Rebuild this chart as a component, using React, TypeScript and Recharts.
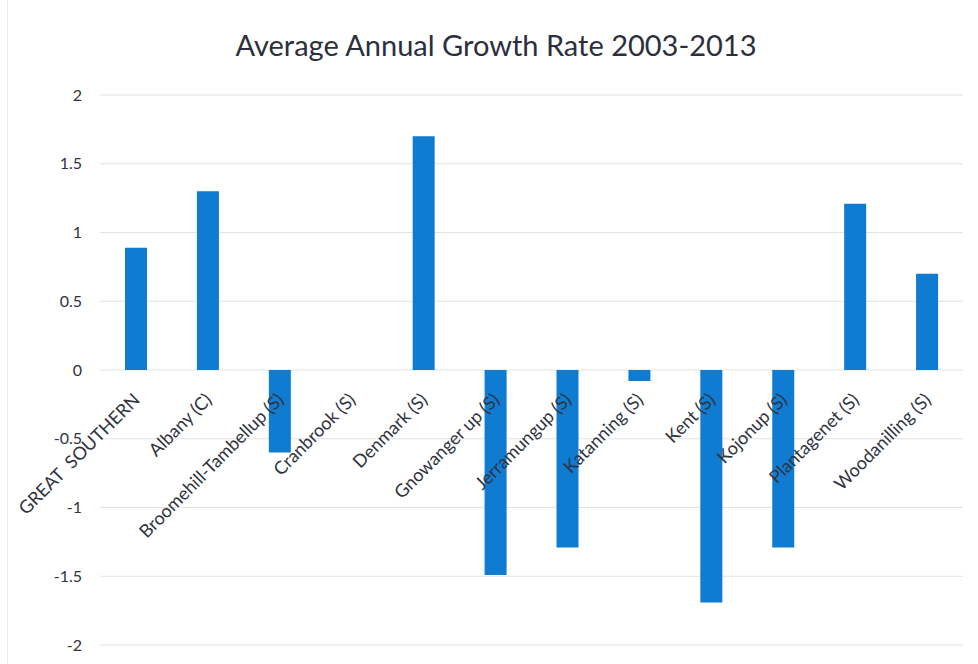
import React from "react";
import * as Recharts from "recharts";
import { BarChart, Bar, XAxis, YAxis, CartesianGrid } from "recharts";

const categories = [
  "GREAT  SOUTHERN",
  "Albany (C)",
  "Broomehill-Tambellup (S)",
  "Cranbrook (S)",
  "Denmark (S)",
  "Gnowanger up (S)",
  "Jerramungup (S)",
  "Katanning (S)",
  "Kent (S)",
  "Kojonup (S)",
  "Plantagenet (S)",
  "Woodanilling (S)",
];
const growthRates = [0.89, 1.3, -0.6, 0, 1.7, -1.49, -1.29, -0.08, -1.69, -1.29, 1.21, 0.7];
const yTicks = [-2, -1.5, -1, -0.5, 0, 0.5, 1, 1.5, 2];
const yDomain: [number, number] = [-2, 2];
const title = "Average Annual Growth Rate 2003-2013";

const data = categories.map((name, i) => ({ name, value: growthRates[i] }));

const FONT = "Lato, 'Open Sans', sans-serif";
const MARGIN = { top: 95, right: 15, left: 0, bottom: 9 };
const X_AXIS_H = 10;
const CHART_W = 978;
const CHART_H = 664;

const usePlot = (Recharts as any).usePlotArea as undefined | (() => any);

const CategoryTick = (props: any) => {
  const { x, payload } = props;
  const area = usePlot ? usePlot() : null;
  const top = area && typeof area.y === "number" ? area.y : MARGIN.top;
  const h =
    area && typeof area.height === "number"
      ? area.height
      : CHART_H - MARGIN.top - MARGIN.bottom - X_AXIS_H;
  const zero = top + (h * (yDomain[1] - 0)) / (yDomain[1] - yDomain[0]);
  const ax = Number(x) + 5;
  const ay = zero + 31;
  return (
    <text
      x={ax}
      y={ay}
      textAnchor="end"
      transform={`rotate(-45 ${ax} ${ay})`}
      fontSize={18}
      fontFamily={FONT}
      fill="#2f3340"
      style={{ whiteSpace: "pre" }}
    >
      {payload.value}
    </text>
  );
};

export default function App() {
  return (
    <div style={{ position: "absolute", left: 0, top: 0, width: CHART_W, height: CHART_H, background: "#fff" }}>
      <div
        style={{
          position: "absolute",
          left: 7,
          top: 0,
          width: 1,
          height: CHART_H,
          background: "#ececec",
        }}
      />
      <div
        style={{
          position: "absolute",
          left: 0,
          width: 992,
          top: 28,
          textAlign: "center",
          fontFamily: FONT,
          fontSize: 29,
          color: "#2b2f3d",
          lineHeight: "34px",
        }}
      >
        {title}
      </div>
      <BarChart width={CHART_W} height={CHART_H} data={data} margin={MARGIN} barSize={22}>
        <CartesianGrid vertical={false} stroke="#e2e2e2" />
        <YAxis
          width={100}
          domain={yDomain}
          ticks={yTicks}
          interval={0}
          axisLine={false}
          tickLine={false}
          tickMargin={12}
          tick={{ fontSize: 16, fontFamily: FONT, fill: "#2f3340" }}
        />
        <Bar dataKey="value" fill="#0f7bd1" isAnimationActive={false} />
        <XAxis
          dataKey="name"
          height={X_AXIS_H}
          interval={0}
          axisLine={false}
          tickLine={false}
          tick={(p: any) => <CategoryTick {...p} />}
        />
      </BarChart>
    </div>
  );
}
